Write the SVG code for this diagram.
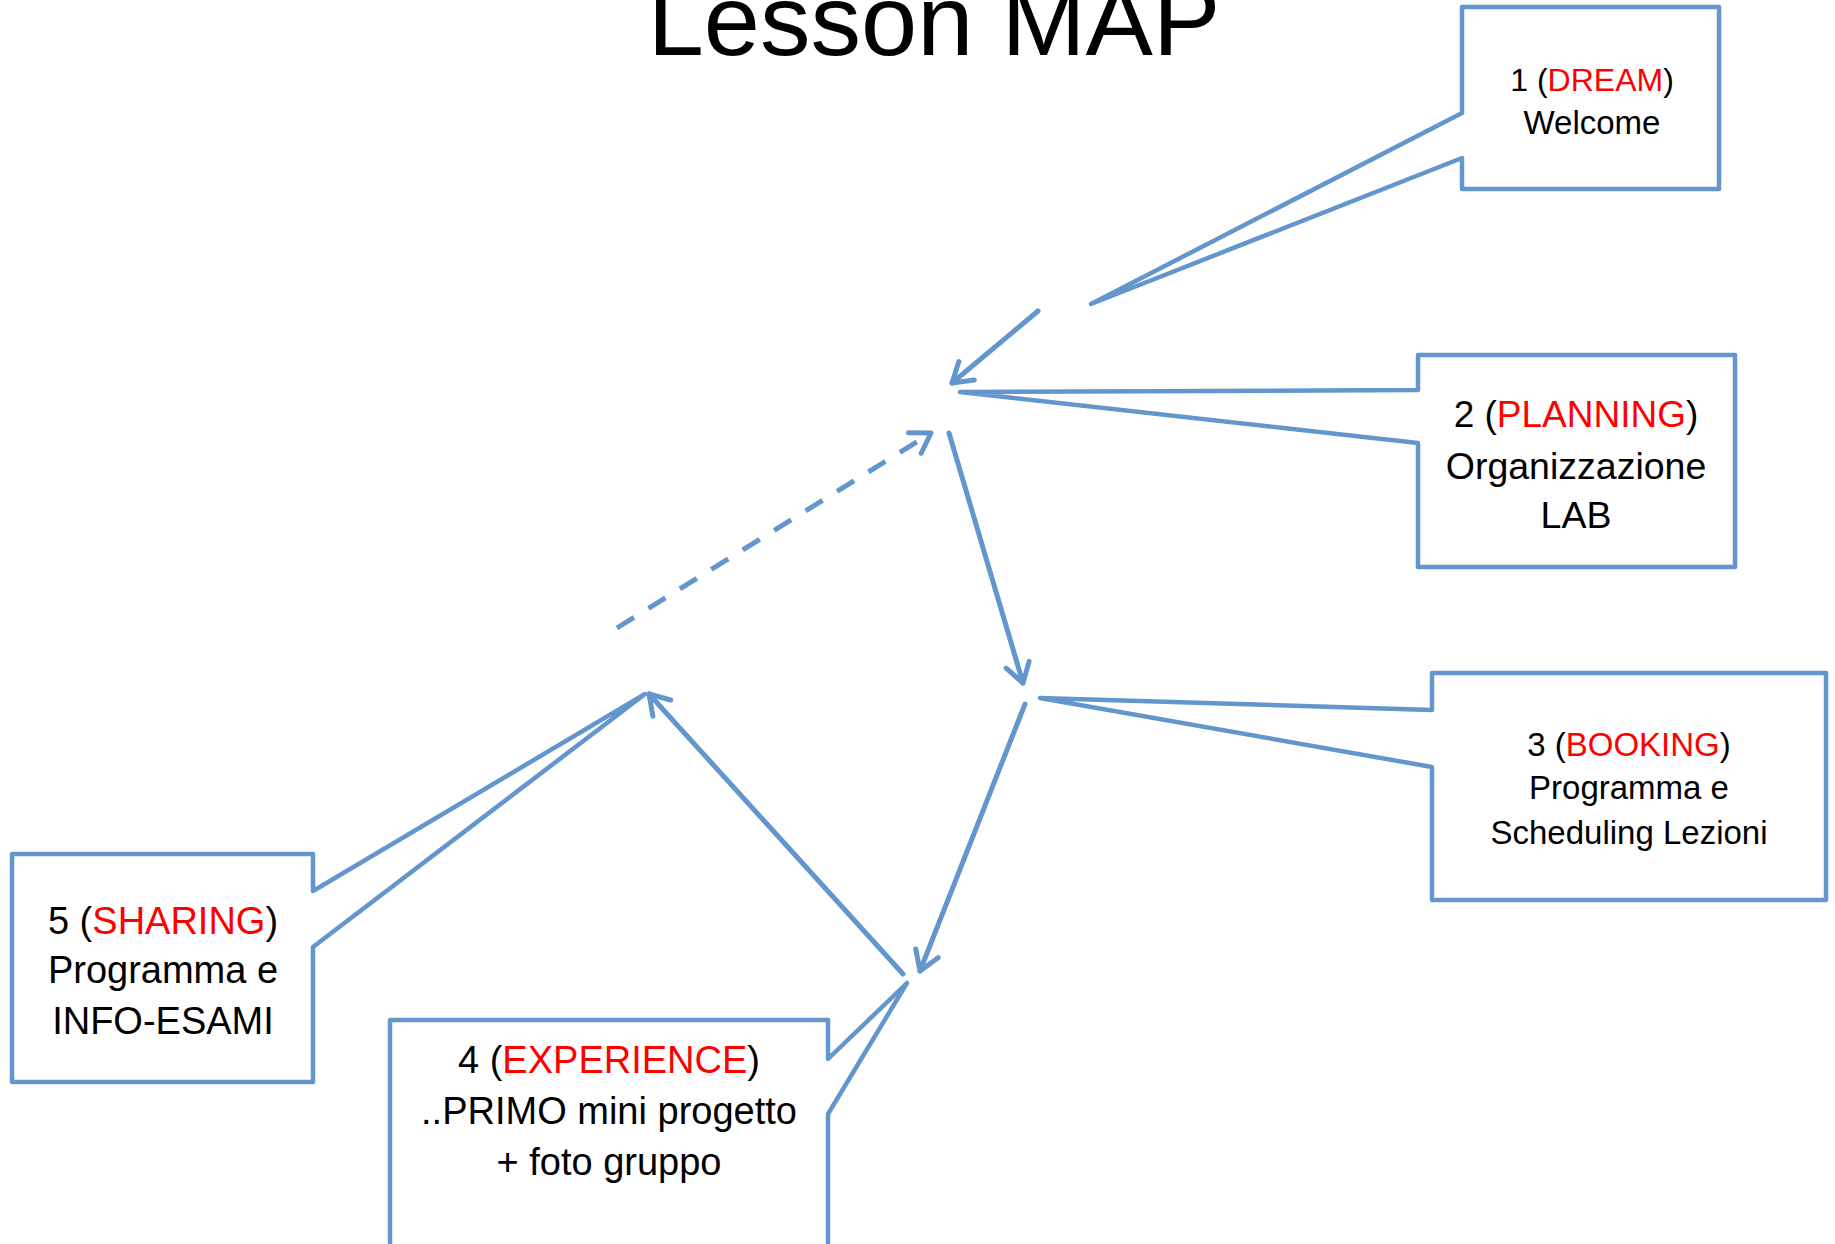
<svg xmlns="http://www.w3.org/2000/svg" width="1835" height="1244" viewBox="0 0 1835 1244">
<style>
.box{fill:#fff;stroke:#6396CC;stroke-width:4.5;stroke-linejoin:round}
.t{font-family:"Liberation Sans",Arial,sans-serif;fill:#000;text-anchor:middle}
.r{fill:#FF0000}
.c{fill:none;stroke:#6396CC;stroke-width:5;stroke-linecap:round}
.d{stroke-dasharray:20 17;stroke-linecap:butt}
</style>
<defs>
<marker id="ah" markerUnits="userSpaceOnUse" viewBox="-24 -16 28 32" refX="0" refY="0" markerWidth="28" markerHeight="32" orient="auto">
<path d="M-19,-12 L0,0 L-19,12" fill="none" stroke="#6396CC" stroke-width="5" stroke-linecap="round" stroke-linejoin="round"/>
</marker>
</defs>
<rect width="1835" height="1244" fill="#fff"/>
<text class="t" x="934" y="55" font-size="101">Lesson MAP</text>
<g id="connectors">
<line class="c" x1="1038" y1="311" x2="952" y2="383" marker-end="url(#ah)"/>
<line class="c" x1="949" y1="433" x2="1023" y2="683" marker-end="url(#ah)"/>
<line class="c" x1="1025" y1="704" x2="920" y2="971" marker-end="url(#ah)"/>
<line class="c" x1="903" y1="974" x2="649" y2="694" marker-end="url(#ah)"/>
<line class="c d" x1="617" y1="628" x2="931" y2="433" marker-end="url(#ah)"/>
</g>
<g id="node1">
<polygon class="box" points="1462,7 1719,7 1719,189 1462,189 1462,158 1091,304 1462,113"/>
<text class="t" x="1592" y="91" font-size="32">1 (<tspan class="r">DREAM</tspan>)</text>
<text class="t" x="1592" y="134" font-size="33">Welcome</text>
</g>
<g id="node2">
<polygon class="box" points="1418,355 1735,355 1735,567 1418,567 1418,443 960,392 1418,390"/>
<text class="t" x="1576" y="427" font-size="37">2 (<tspan class="r">PLANNING</tspan>)</text>
<text class="t" x="1576" y="479" font-size="37.5">Organizzazione</text>
<text class="t" x="1576" y="528" font-size="37.5">LAB</text>
</g>
<g id="node3">
<polygon class="box" points="1432,673 1826,673 1826,900 1432,900 1432,767 1040,698 1432,710"/>
<text class="t" x="1629" y="756" font-size="33">3 (<tspan class="r">BOOKING</tspan>)</text>
<text class="t" x="1629" y="799" font-size="33">Programma e</text>
<text class="t" x="1629" y="844" font-size="33">Scheduling Lezioni</text>
</g>
<g id="node5">
<polygon class="box" points="12,854 313,854 313,891 645,694 313,947 313,1082 12,1082"/>
<text class="t" x="163" y="934" font-size="38">5 (<tspan class="r">SHARING</tspan>)</text>
<text class="t" x="163" y="983" font-size="38">Programma e</text>
<text class="t" x="163" y="1034" font-size="38">INFO-ESAMI</text>
</g>
<g id="node4">
<polygon class="box" points="390,1020 828,1020 828,1059 907,983 828,1114 828,1260 390,1260"/>
<text class="t" x="609" y="1073" font-size="38">4 (<tspan class="r">EXPERIENCE</tspan>)</text>
<text class="t" x="609" y="1124" font-size="38">..PRIMO mini progetto</text>
<text class="t" x="609" y="1175" font-size="38">+ foto gruppo</text>
</g>
</svg>
